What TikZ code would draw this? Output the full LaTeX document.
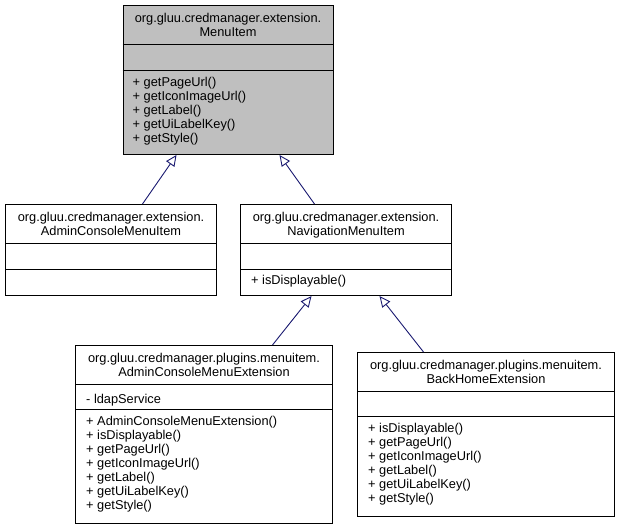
\documentclass[tikz,border=0pt]{standalone}
\usepackage{fontspec}
\setmainfont{Liberation Sans}
\usetikzlibrary{arrows.meta}
\definecolor{navy}{HTML}{191970}
\definecolor{boxgray}{HTML}{BFBFBF}
\newcommand{\umlfont}{\fontsize{12.8}{14}\selectfont}
\begin{document}
\begin{tikzpicture}[x=1pt,y=-1pt,
 cls/.style={draw=black, line width=1pt, rectangle, inner sep=0pt, anchor=north west, fill=white},
 sepline/.style={draw=black, line width=1pt},
 ttl/.style={align=center, anchor=north, inner sep=0pt, font=\umlfont},
 mem/.style={align=left, anchor=north west, inner sep=0pt, font=\umlfont},
 inherit/.style={draw=navy, line width=0.9pt, -{Triangle[open, length=11pt, width=10pt, fill=white]}}]
\useasboundingbox (0,0) rectangle (619,529);

% MenuItem
\node[cls, fill=boxgray, minimum width=210pt, minimum height=149pt] (menu) at (122.5,5) {};
\draw[sepline] ([yshift=-40pt]menu.north west) -- ([yshift=-40pt]menu.north east);
\draw[sepline] ([yshift=-66pt]menu.north west) -- ([yshift=-66pt]menu.north east);
\node[ttl] (menut) at ([yshift=-8pt]menu.north) {\strut org.gluu.credmanager.extension.\\MenuItem};
\node[mem] (menum) at ([xshift=10pt,yshift=-71.7pt]menu.north west) {\strut + getPageUrl()\\+ getIconImageUrl()\\+ getLabel()\\+ getUiLabelKey()\\+ getStyle()};

% AdminConsoleMenuItem
\node[cls, minimum width=211pt, minimum height=91pt] (acmi) at (5,204) {};
\draw[sepline] ([yshift=-40pt]acmi.north west) -- ([yshift=-40pt]acmi.north east);
\draw[sepline] ([yshift=-66pt]acmi.north west) -- ([yshift=-66pt]acmi.north east);
\node[ttl] (acmit) at ([yshift=-8pt]acmi.north) {\strut org.gluu.credmanager.extension.\\AdminConsoleMenuItem};

% NavigationMenuItem
\node[cls, minimum width=211pt, minimum height=91pt] (nmi) at (240,204) {};
\draw[sepline] ([yshift=-40pt]nmi.north west) -- ([yshift=-40pt]nmi.north east);
\draw[sepline] ([yshift=-65.5pt]nmi.north west) -- ([yshift=-65.5pt]nmi.north east);
\node[ttl] (nmit) at ([yshift=-8pt]nmi.north) {\strut org.gluu.credmanager.extension.\\NavigationMenuItem};
\node[mem] (nmim) at ([xshift=11pt,yshift=-71pt]nmi.north west) {\strut + isDisplayable()};

% AdminConsoleMenuExtension
\node[cls, minimum width=257pt, minimum height=178pt] (acme) at (75,345) {};
\draw[sepline] ([yshift=-40pt]acme.north west) -- ([yshift=-40pt]acme.north east);
\draw[sepline] ([yshift=-65pt]acme.north west) -- ([yshift=-65pt]acme.north east);
\node[ttl] (acmet) at ([yshift=-8pt]acme.north) {\strut org.gluu.credmanager.plugins.menuitem.\\AdminConsoleMenuExtension};
\node[mem] (acmea) at ([xshift=11pt,yshift=-48.2pt]acme.north west) {\strut - ldapService};
\node[mem] (acmem) at ([xshift=11pt,yshift=-70.2pt]acme.north west) {\strut + AdminConsoleMenuExtension()\\+ isDisplayable()\\+ getPageUrl()\\+ getIconImageUrl()\\+ getLabel()\\+ getUiLabelKey()\\+ getStyle()};

% BackHomeExtension
\node[cls, minimum width=257pt, minimum height=164pt] (bhe) at (357,352) {};
\draw[sepline] ([yshift=-40pt]bhe.north west) -- ([yshift=-40pt]bhe.north east);
\draw[sepline] ([yshift=-65pt]bhe.north west) -- ([yshift=-65pt]bhe.north east);
\node[ttl] (bhet) at ([yshift=-8pt]bhe.north) {\strut org.gluu.credmanager.plugins.menuitem.\\BackHomeExtension};
\node[mem] (bhem) at ([xshift=11pt,yshift=-70.2pt]bhe.north west) {\strut + isDisplayable()\\+ getPageUrl()\\+ getIconImageUrl()\\+ getLabel()\\+ getUiLabelKey()\\+ getStyle()};

% inheritance
\draw[inherit] ([xshift=31.5pt]acmi.north) -- ([xshift=-51.5pt]menu.south);
\draw[inherit] ([xshift=-31.5pt]nmi.north) -- ([xshift=51.5pt]menu.south);
\draw[inherit] ([xshift=68.5pt]acme.north) -- ([xshift=-34.5pt]nmi.south);
\draw[inherit] ([xshift=-62.5pt]bhe.north) -- ([xshift=33.5pt]nmi.south);
\end{tikzpicture}
\end{document}
